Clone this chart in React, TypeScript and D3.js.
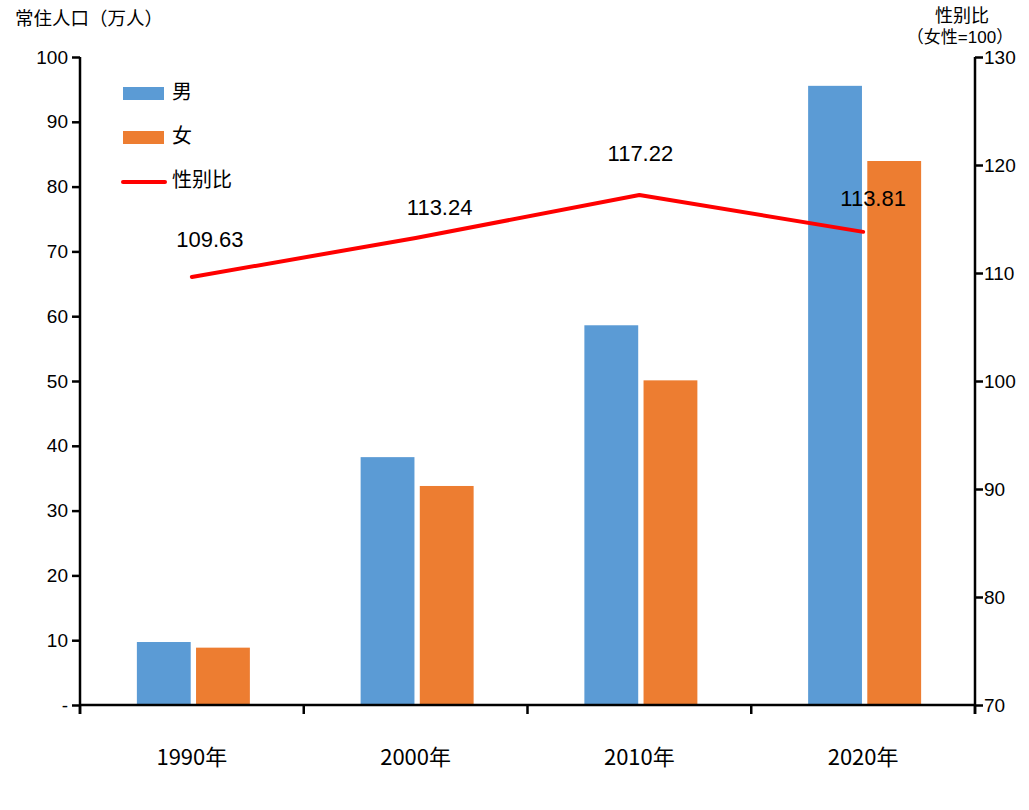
import { useEffect, useRef } from 'react';
import * as d3 from 'd3';

const years = ['1990年', '2000年', '2010年', '2020年'];
const series = ['男', '女'];
const maleValues = [9.72, 38.25, 58.6, 95.55];
const femaleValues = [8.85, 33.8, 50.1, 83.95];
const sexRatio = [109.63, 113.24, 117.22, 113.81];
const leftTicks = [0, 10, 20, 30, 40, 50, 60, 70, 80, 90, 100];
const rightTicks = [70, 80, 90, 100, 110, 120, 130];

const colors: Record<string, string> = { 男: '#5b9bd5', 女: '#ed7d31' };
// hand-placed label offsets, like the original
const labelOffsets = [[18, -36], [24, -29], [1, -40], [10, -32]];

const FONT = '"Noto Sans CJK SC", "Noto Sans", sans-serif';
const NUM_FONT = '"Liberation Sans", "Noto Sans CJK SC", sans-serif';

export default function App() {
  const svgRef = useRef<SVGSVGElement>(null);

  useEffect(() => {
    if (!svgRef.current) return;
    const svg = d3.select(svgRef.current);
    svg.selectAll('*').remove();

    const left = 80, right = 975, top = 57, bottom = 705;

    const x = d3.scaleBand<string>().domain(years).range([left, right]);
    const x1 = d3.scaleBand<string>().domain(series).range([-55, 58]).paddingInner(0.09);
    const y = d3.scaleLinear().domain([0, 100]).range([bottom, top]);
    const y2 = d3.scaleLinear().domain([70, 130]).range([bottom, top]);

    const g = svg.append('g').style('font-family', FONT);

    // bars
    const rows = years.map((yr, i) => ({ yr, values: [maleValues[i], femaleValues[i]] }));
    rows.forEach((row) => {
      const cx = (x(row.yr) as number) + x.bandwidth() / 2;
      series.forEach((s, j) => {
        g.append('rect')
          .attr('x', cx + (x1(s) as number))
          .attr('y', y(row.values[j]))
          .attr('width', x1.bandwidth())
          .attr('height', bottom - y(row.values[j]))
          .attr('fill', colors[s]);
      });
    });

    // left axis
    const leftAxis = g.append('g').attr('transform', `translate(${left},0)`)
      .call(d3.axisLeft(y).tickValues(leftTicks).tickSize(8).tickPadding(4)
        .tickFormat((d) => (d === 0 ? '-' : String(d))));
    // right axis
    const rightAxis = g.append('g').attr('transform', `translate(${right},0)`)
      .call(d3.axisRight(y2).tickValues(rightTicks).tickSize(8).tickPadding(1));
    [leftAxis, rightAxis].forEach((a) => {
      a.select('.domain').attr('stroke', '#000').attr('stroke-width', 2.5)
        .attr('d', `M0,${top}V${bottom + 9}`);
      a.selectAll('.tick line').attr('stroke', '#000').attr('stroke-width', 2.5);
      a.selectAll('.tick text').attr('fill', '#000').style('font-size', '19px').style('font-family', NUM_FONT);
    });

    // x axis
    const xAxis = g.append('g').attr('transform', `translate(0,${bottom})`);
    xAxis.append('line').attr('x1', left).attr('x2', right).attr('stroke', '#000').attr('stroke-width', 2.5);
    const boundaries = years.map((yr) => x(yr) as number).concat([right]);
    boundaries.forEach((bx) => {
      xAxis.append('line').attr('x1', bx).attr('x2', bx).attr('y1', 0).attr('y2', 9)
        .attr('stroke', '#000').attr('stroke-width', 2.5);
    });
    years.forEach((yr) => {
      xAxis.append('text')
        .attr('x', (x(yr) as number) + x.bandwidth() / 2)
        .attr('y', 60)
        .attr('text-anchor', 'middle')
        .style('font-size', '22px')
        .text(yr);
    });

    // sex ratio line
    const pts = sexRatio.map((v, i) => [(x(years[i]) as number) + x.bandwidth() / 2, y2(v)] as [number, number]);
    g.append('path')
      .attr('d', d3.line()(pts))
      .attr('fill', 'none')
      .attr('stroke', '#ff0000')
      .attr('stroke-width', 4)
      .attr('stroke-linecap', 'round')
      .attr('stroke-linejoin', 'round');

    sexRatio.forEach((v, i) => {
      g.append('text')
        .attr('x', pts[i][0] + labelOffsets[i][0])
        .attr('y', pts[i][1] + labelOffsets[i][1])
        .attr('text-anchor', 'middle')
        .attr('dominant-baseline', 'middle')
        .style('font-family', NUM_FONT)
        .style('font-size', '22px')
        .text(v.toFixed(2));
    });

    // titles
    g.append('text').attr('x', 15).attr('y', 25).style('font-size', '18.5px').text('常住人口（万人）');
    g.append('text').attr('x', 962).attr('y', 22).attr('text-anchor', 'middle')
      .style('font-family', NUM_FONT).style('font-size', '18px').text('性别比');
    g.append('text').attr('x', 960).attr('y', 43).attr('text-anchor', 'middle')
      .style('font-family', NUM_FONT).style('font-size', '17px').text('（女性=100）');

    // legend
    const legend = g.append('g');
    series.forEach((s, i) => {
      legend.append('rect').attr('x', 123).attr('y', 87 + i * 44).attr('width', 41).attr('height', 13).attr('fill', colors[s]);
      legend.append('text').attr('x', 172).attr('y', 94 + i * 44).attr('dominant-baseline', 'middle')
        .style('font-size', '20px').text(s);
    });
    legend.append('line').attr('x1', 123).attr('x2', 165).attr('y1', 182).attr('y2', 182)
      .attr('stroke', '#ff0000').attr('stroke-width', 4).attr('stroke-linecap', 'round');
    legend.append('text').attr('x', 172).attr('y', 182).attr('dominant-baseline', 'middle')
      .style('font-size', '20px').text('性别比');
  }, []);

  return (
    <svg ref={svgRef} width={1029} height={810}
      style={{ position: 'absolute', left: 0, top: 0, background: '#fff' }} />
  );
}
